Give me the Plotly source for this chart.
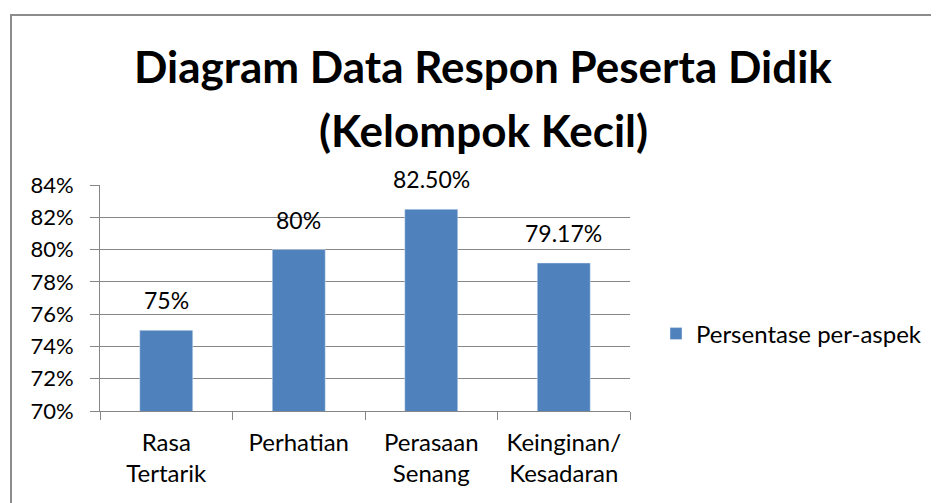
import plotly.graph_objects as go

aspek = ['Rasa<br>Tertarik', 'Perhatian', 'Perasaan<br>Senang', 'Keinginan/<br>Kesadaran']
persentase = [0.75, 0.80, 0.825, 0.7917]
label_nilai = ['75%', '80%', '82.50%', '79.17%']
y_ticks = [0.70, 0.72, 0.74, 0.76, 0.78, 0.80, 0.82, 0.84]
judul = ['Diagram Data Respon Peserta Didik', '(Kelompok Kecil)']

FONT = 'Lato, Calibri, sans-serif'
ABU = '#868686'

# page body adds 8px offset, so figure is drawn 8px smaller
W, H = 931, 495
L, T, PW, PH = 92, 177, 530, 226


def px_x(x):
    return (x - L) / PW


def px_y(y):
    return (T + PH - y) / PH


fig = go.Figure()
fig.add_trace(go.Bar(
    x=aspek,
    y=persentase,
    name='Persentase per-aspek',
    marker_color='#4F81BD',
))

# label nilai di atas batang
for kat, nilai, teks in zip(aspek, persentase, label_nilai):
    fig.add_annotation(
        x=kat, y=nilai, text=teks, showarrow=False,
        yanchor='bottom', yshift=14,
        font=dict(size=23, color='black', family=FONT),
    )

for i, baris in enumerate(judul):
    fig.add_annotation(
        text='<b>%s</b>' % baris, xref='paper', yref='paper',
        x=px_x(475), y=px_y(58 + 64 * i), xanchor='center', yanchor='middle',
        showarrow=False, font=dict(size=44, family=FONT, color='black'),
    )

fig.update_layout(
    width=W, height=H,
    margin=dict(l=L, r=W - L - PW, t=T, b=H - T - PH, autoexpand=False),
    plot_bgcolor='white', paper_bgcolor='white',
    font=dict(family=FONT, size=23, color='black'),
    bargap=0.6,
    showlegend=True,
    legend=dict(x=px_x(648), y=px_y(326), xanchor='left', yanchor='middle',
                font=dict(size=24), itemwidth=30),
    shapes=[dict(
        type='rect', xref='paper', yref='paper',
        x0=px_x(3), x1=px_x(960), y0=px_y(540), y1=px_y(7),
        line=dict(color='#8c8c8c', width=2), layer='below',
    )],
)

fig.update_xaxes(
    showline=True, linecolor=ABU, linewidth=1,
    ticks='outside', tickson='boundaries', ticklen=8, tickcolor=ABU,
    showgrid=False,
    ticklabelstandoff=10,
    tickfont=dict(size=24),
)
fig.update_yaxes(
    range=[0.70, 0.84], tickvals=y_ticks, tickformat='.0%',
    showline=True, linecolor=ABU, linewidth=1,
    ticks='outside', ticklen=9, tickcolor=ABU,
    showgrid=True, gridcolor=ABU, gridwidth=1,
    ticklabelstandoff=12,
    tickfont=dict(size=22),
)

fig.write_html("out.html")
